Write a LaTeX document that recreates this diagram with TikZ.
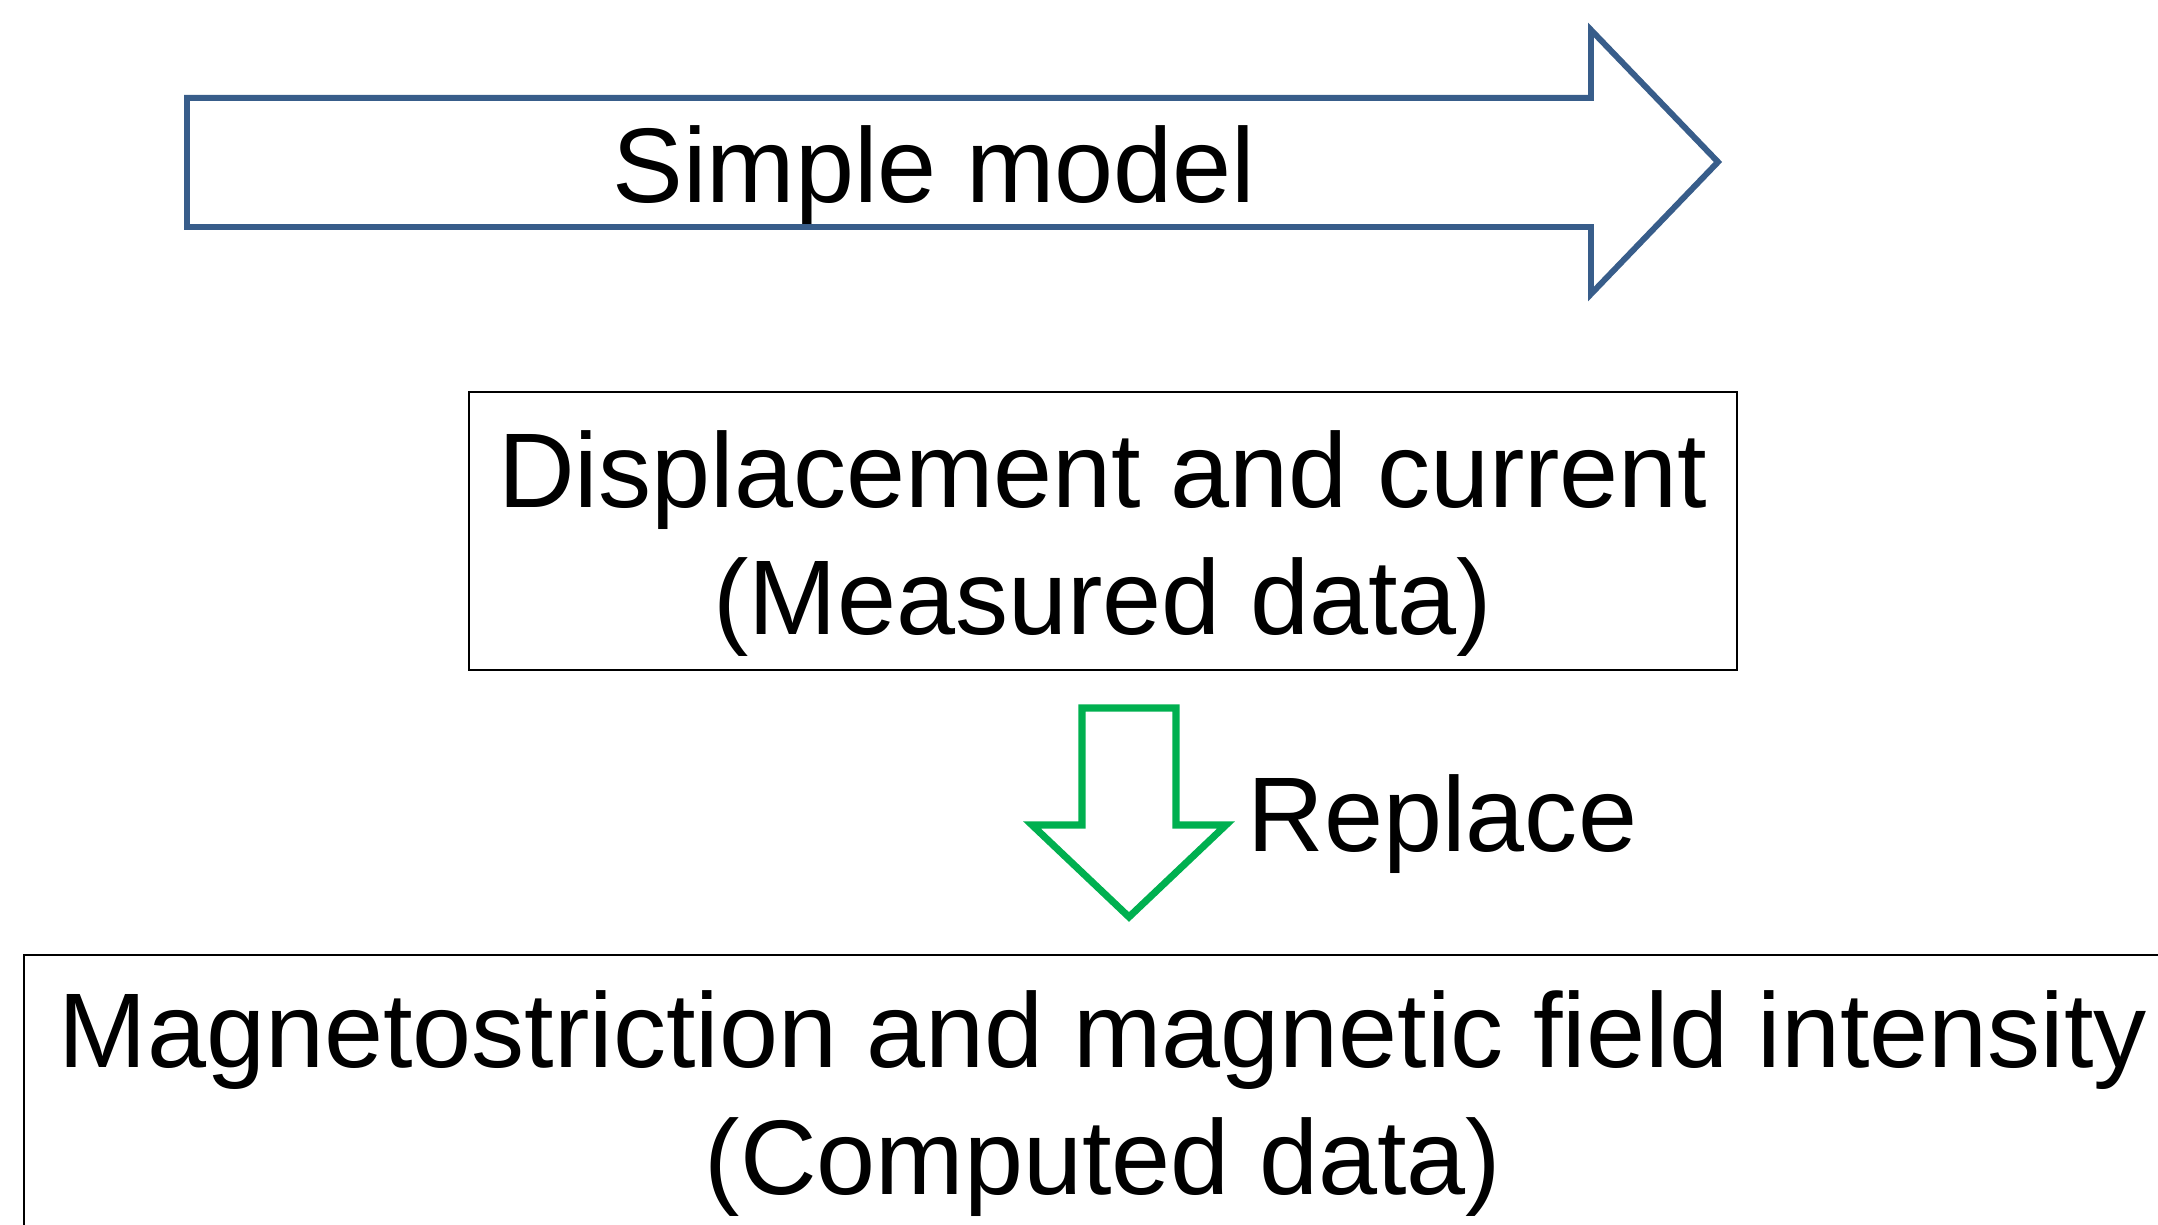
\documentclass[tikz,border=0pt]{standalone}
\usepackage{fontspec}
\setmainfont{Liberation Sans}
\usetikzlibrary{positioning}
\definecolor{modelblue}{HTML}{385D8A}
\definecolor{replacegreen}{HTML}{00B050}
\begin{document}
\begin{tikzpicture}[
    txt/.style={font=\fontsize{30.2}{36.4}\selectfont, inner sep=0pt, align=center},
    databox/.style={draw, line width=0.6pt, inner sep=0pt},
  ]
  \useasboundingbox (0,0) rectangle (21.58,-12.25);
  \clip (0,0) rectangle (21.58,-12.25);
  % simple model arrow
  \draw[modelblue, line width=1.7pt, miter limit=20]
    (1.87,-0.98) -- (15.91,-0.98) -- (15.91,-0.30) -- (17.18,-1.62)
    -- (15.91,-2.94) -- (15.91,-2.27) -- (1.87,-2.27) -- cycle;
  \node[txt, anchor=base] (simple) at (9.34,-2.03) {Simple model};
  % measured data
  \node[databox, minimum width=12.68cm, minimum height=2.78cm] (measured) at (11.03,-5.31) {};
  \node[txt, anchor=base] (measuredtext) at (11.03,-6.35) {Displacement and current\\(Measured data)};
  % replace arrow
  \draw[replacegreen, line width=2pt, miter limit=20]
    (10.82,-7.08) -- (11.76,-7.08) -- (11.76,-8.25) -- (12.26,-8.25)
    -- (11.29,-9.17) -- (10.32,-8.25) -- (10.82,-8.25) -- cycle;
  \node[txt, anchor=base west] (replace) at (12.47,-8.52) {Replace};
  % computed data
  \node[databox, minimum width=21.9cm, minimum height=3.5cm, anchor=north west] (computed) at (0.23,-9.54) {};
  \node[txt, anchor=base] (computedtext) at (11.03,-11.95) {Magnetostriction and magnetic field intensity\\(Computed data)};
\end{tikzpicture}
\end{document}
